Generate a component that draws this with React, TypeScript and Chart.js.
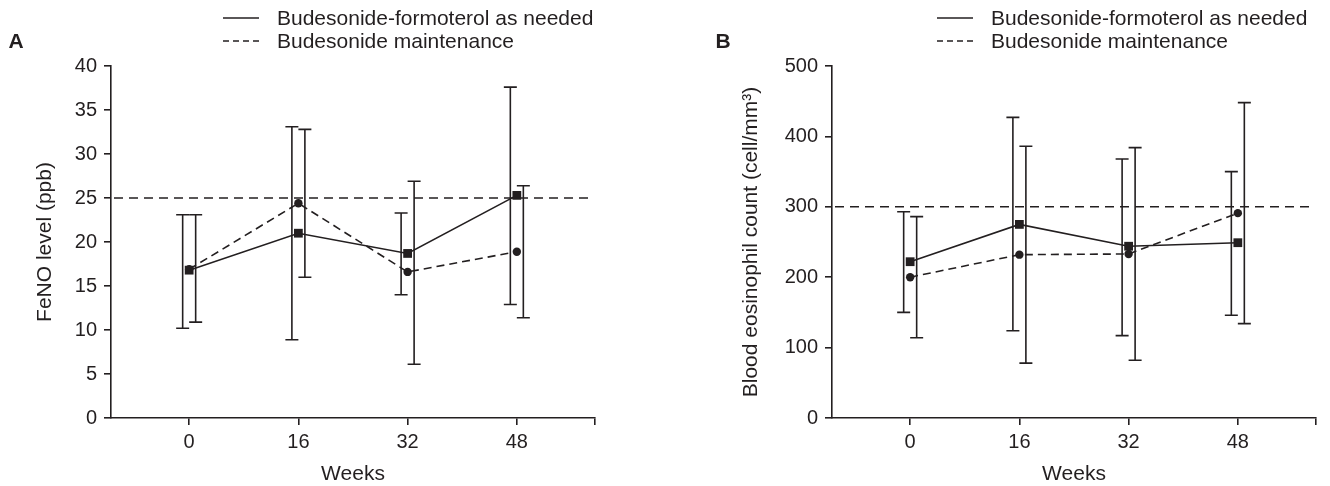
import React, { useEffect, useRef } from "react";
import { Chart, registerables } from "chart.js";

Chart.register(...registerables);

// ---------- data ----------
const WEEKS = [0, 16, 32, 48];
const SERIES_NAMES = ["Budesonide-formoterol as needed", "Budesonide maintenance"];

// Panel A: FeNO level (ppb)
const FENO_TICKS = [0, 5, 10, 15, 20, 25, 30, 35, 40];
const FENO_NEEDED_MEAN = [16.8, 21.0, 18.7, 25.3];
const FENO_NEEDED_LOW = [10.2, 8.9, 14.0, 12.9];
const FENO_NEEDED_HIGH = [23.1, 33.1, 23.3, 37.6];
const FENO_MAINT_MEAN = [16.9, 24.4, 16.6, 18.9];
const FENO_MAINT_LOW = [10.9, 16.0, 6.1, 11.4];
const FENO_MAINT_HIGH = [23.1, 32.8, 26.9, 26.4];
const FENO_REF = 25;

// Panel B: Blood eosinophil count (cell/mm3)
const EOS_TICKS = [0, 100, 200, 300, 400, 500];
const EOS_NEEDED_MEAN = [222, 275, 244, 249];
const EOS_NEEDED_LOW = [150, 124, 117, 146];
const EOS_NEEDED_HIGH = [293, 427, 368, 350];
const EOS_MAINT_MEAN = [200, 232, 233, 291];
const EOS_MAINT_LOW = [114, 78, 82, 134];
const EOS_MAINT_HIGH = [286, 386, 384, 448];
const EOS_REF = 300;

// ---------- style ----------
const INK = "#231f20";
const FONT = "'Liberation Sans', Arial, Helvetica, sans-serif";
const TICK_SIZE = 20;
const TEXT_SIZE = 21;
const LW = 1.6;
const X_MIN = -11.45;
const X_MAX = 59.45;

type PanelCfg = {
  letter: string;
  letterX: number;
  yTitle: string;
  yTitleX: number;
  ticks: number[];
  ref: number;
  needed: { mean: number[]; low: number[]; high: number[] };
  maint: { mean: number[]; low: number[]; high: number[] };
  axisLeft: number;
  padRight: number;
  legendX: number;
};

const PANELS: PanelCfg[] = [
  {
    letter: "A",
    letterX: 16,
    yTitle: "FeNO level (ppb)",
    yTitleX: 45,
    ticks: FENO_TICKS,
    ref: FENO_REF,
    needed: { mean: FENO_NEEDED_MEAN, low: FENO_NEEDED_LOW, high: FENO_NEEDED_HIGH },
    maint: { mean: FENO_MAINT_MEAN, low: FENO_MAINT_LOW, high: FENO_MAINT_HIGH },
    axisLeft: 111,
    padRight: 70,
    legendX: 223,
  },
  {
    letter: "B",
    letterX: 58,
    yTitle: "Blood eosinophil count (cell/mm\u00B3)",
    yTitleX: 86,
    ticks: EOS_TICKS,
    ref: EOS_REF,
    needed: { mean: EOS_NEEDED_MEAN, low: EOS_NEEDED_LOW, high: EOS_NEEDED_HIGH },
    maint: { mean: EOS_MAINT_MEAN, low: EOS_MAINT_LOW, high: EOS_MAINT_HIGH },
    axisLeft: 167,
    padRight: 14,
    legendX: 272,
  },
];

const W = 665;
const H = 486;
const TOP = 66;
const BOTTOM = 418;

const decorPlugin = {
  id: "panelDecor",
  beforeDatasetsDraw(chart: any) {
    const cfg: PanelCfg = chart.options.plugins.panelDecor.cfg;
    const { ctx, chartArea } = chart;
    const x = chart.scales.x;
    const y = chart.scales.y;
    ctx.save();
    ctx.strokeStyle = INK;
    ctx.lineWidth = LW;
    // reference line
    const yr = y.getPixelForValue(cfg.ref);
    ctx.setLineDash([9, 6]);
    ctx.beginPath();
    ctx.moveTo(chartArea.left + 3, yr);
    ctx.lineTo(chartArea.right - 2, yr);
    ctx.stroke();
    ctx.setLineDash([]);
    // error bars
    const groups = [cfg.needed, cfg.maint];
    groups.forEach((g, si) => {
      const off = si === 0 ? -6.5 : 6.5;
      WEEKS.forEach((w, i) => {
        const px = x.getPixelForValue(w) + off;
        const pt = y.getPixelForValue(g.high[i]);
        const pb = y.getPixelForValue(g.low[i]);
        const cap = 6.5;
        ctx.beginPath();
        ctx.moveTo(px, pt);
        ctx.lineTo(px, pb);
        ctx.moveTo(px - cap, pt);
        ctx.lineTo(px + cap, pt);
        ctx.moveTo(px - cap, pb);
        ctx.lineTo(px + cap, pb);
        ctx.stroke();
      });
    });
    ctx.restore();
  },
  afterDraw(chart: any) {
    const cfg: PanelCfg = chart.options.plugins.panelDecor.cfg;
    const { ctx, chartArea } = chart;
    ctx.save();
    ctx.fillStyle = INK;
    ctx.strokeStyle = INK;
    // panel letter
    ctx.font = `bold 21px ${FONT}`;
    ctx.textAlign = "center";
    ctx.textBaseline = "middle";
    ctx.fillText(cfg.letter, cfg.letterX, 42);
    // legend
    ctx.font = `${TEXT_SIZE}px ${FONT}`;
    ctx.textAlign = "left";
    const rows = [18, 41];
    rows.forEach((ry, i) => {
      ctx.lineWidth = LW;
      ctx.setLineDash(i === 0 ? [] : [6, 4]);
      ctx.beginPath();
      ctx.moveTo(cfg.legendX, ry);
      ctx.lineTo(cfg.legendX + 36, ry);
      ctx.stroke();
      ctx.setLineDash([]);
      ctx.fillText(SERIES_NAMES[i], cfg.legendX + 54, ry + 1);
    });
    // x title
    ctx.textAlign = "center";
    ctx.fillText("Weeks", (chartArea.left + chartArea.right) / 2, 474);
    // y title
    ctx.translate(cfg.yTitleX, (chartArea.top + chartArea.bottom) / 2);
    ctx.rotate(-Math.PI / 2);
    ctx.fillText(cfg.yTitle, 0, 0);
    ctx.restore();
  },
};

function Panel({ cfg, left }: { cfg: PanelCfg; left: number }) {
  const ref = useRef<HTMLCanvasElement | null>(null);
  useEffect(() => {
    if (!ref.current) return;
    const tickFont = { family: FONT, size: TICK_SIZE };
    const mk = (g: { mean: number[] }) => WEEKS.map((w, i) => ({ x: w, y: g.mean[i] }));
    const chart = new Chart(ref.current, {
      type: "line",
      data: {
        datasets: [
          {
            label: SERIES_NAMES[0],
            data: mk(cfg.needed),
            borderColor: INK,
            borderWidth: LW,
            pointStyle: "rect",
            pointRadius: 6.2,
            pointBackgroundColor: INK,
            pointBorderColor: INK,
            pointBorderWidth: 0,
            tension: 0,
            clip: false,
          } as any,
          {
            label: SERIES_NAMES[1],
            data: mk(cfg.maint),
            borderColor: INK,
            borderWidth: LW,
            borderDash: [8, 5],
            pointStyle: "circle",
            pointRadius: 4.2,
            pointBackgroundColor: INK,
            pointBorderColor: INK,
            pointBorderWidth: 0,
            tension: 0,
            clip: false,
          } as any,
        ],
      },
      options: {
        responsive: false,
        animation: false,
        events: [],
        layout: { padding: { left: 0, top: TOP, right: cfg.padRight, bottom: 0 } },
        plugins: {
          legend: { display: false },
          tooltip: { enabled: false },
          panelDecor: { cfg },
        } as any,
        scales: {
          x: {
            type: "linear",
            min: X_MIN,
            max: X_MAX,
            afterBuildTicks: (s: any) => {
              s.ticks = [...WEEKS, X_MAX].map((v) => ({ value: v }));
            },
            afterFit: (s: any) => {
              s.height = H - BOTTOM;
            },
            ticks: {
              callback: (v: any) => (WEEKS.includes(v) ? String(v) : ""),
              font: tickFont,
              color: INK,
              padding: 5,
              maxRotation: 0,
              autoSkip: false,
            },
            grid: { drawOnChartArea: false, drawTicks: true, tickLength: 7, color: INK, lineWidth: LW },
            border: { display: true, color: INK, width: LW },
          },
          y: {
            type: "linear",
            min: cfg.ticks[0],
            max: cfg.ticks[cfg.ticks.length - 1],
            afterBuildTicks: (s: any) => {
              s.ticks = cfg.ticks.map((v) => ({ value: v }));
            },
            afterFit: (s: any) => {
              s.width = cfg.axisLeft;
            },
            ticks: { font: tickFont, color: INK, padding: 7 },
            grid: { drawOnChartArea: false, drawTicks: true, tickLength: 7, color: INK, lineWidth: LW },
            border: { display: true, color: INK, width: LW },
          },
        },
      } as any,
      plugins: [decorPlugin],
    });
    return () => chart.destroy();
  }, [cfg]);
  return (
    <canvas
      ref={ref}
      width={W}
      height={H}
      style={{ position: "absolute", left, top: 0, width: W, height: H }}
    />
  );
}

export default function App() {
  return (
    <div style={{ position: "fixed", left: 0, top: 0, width: 1330, height: 486, background: "#fff" }}>
      <Panel cfg={PANELS[0]} left={0} />
      <Panel cfg={PANELS[1]} left={665} />
    </div>
  );
}
